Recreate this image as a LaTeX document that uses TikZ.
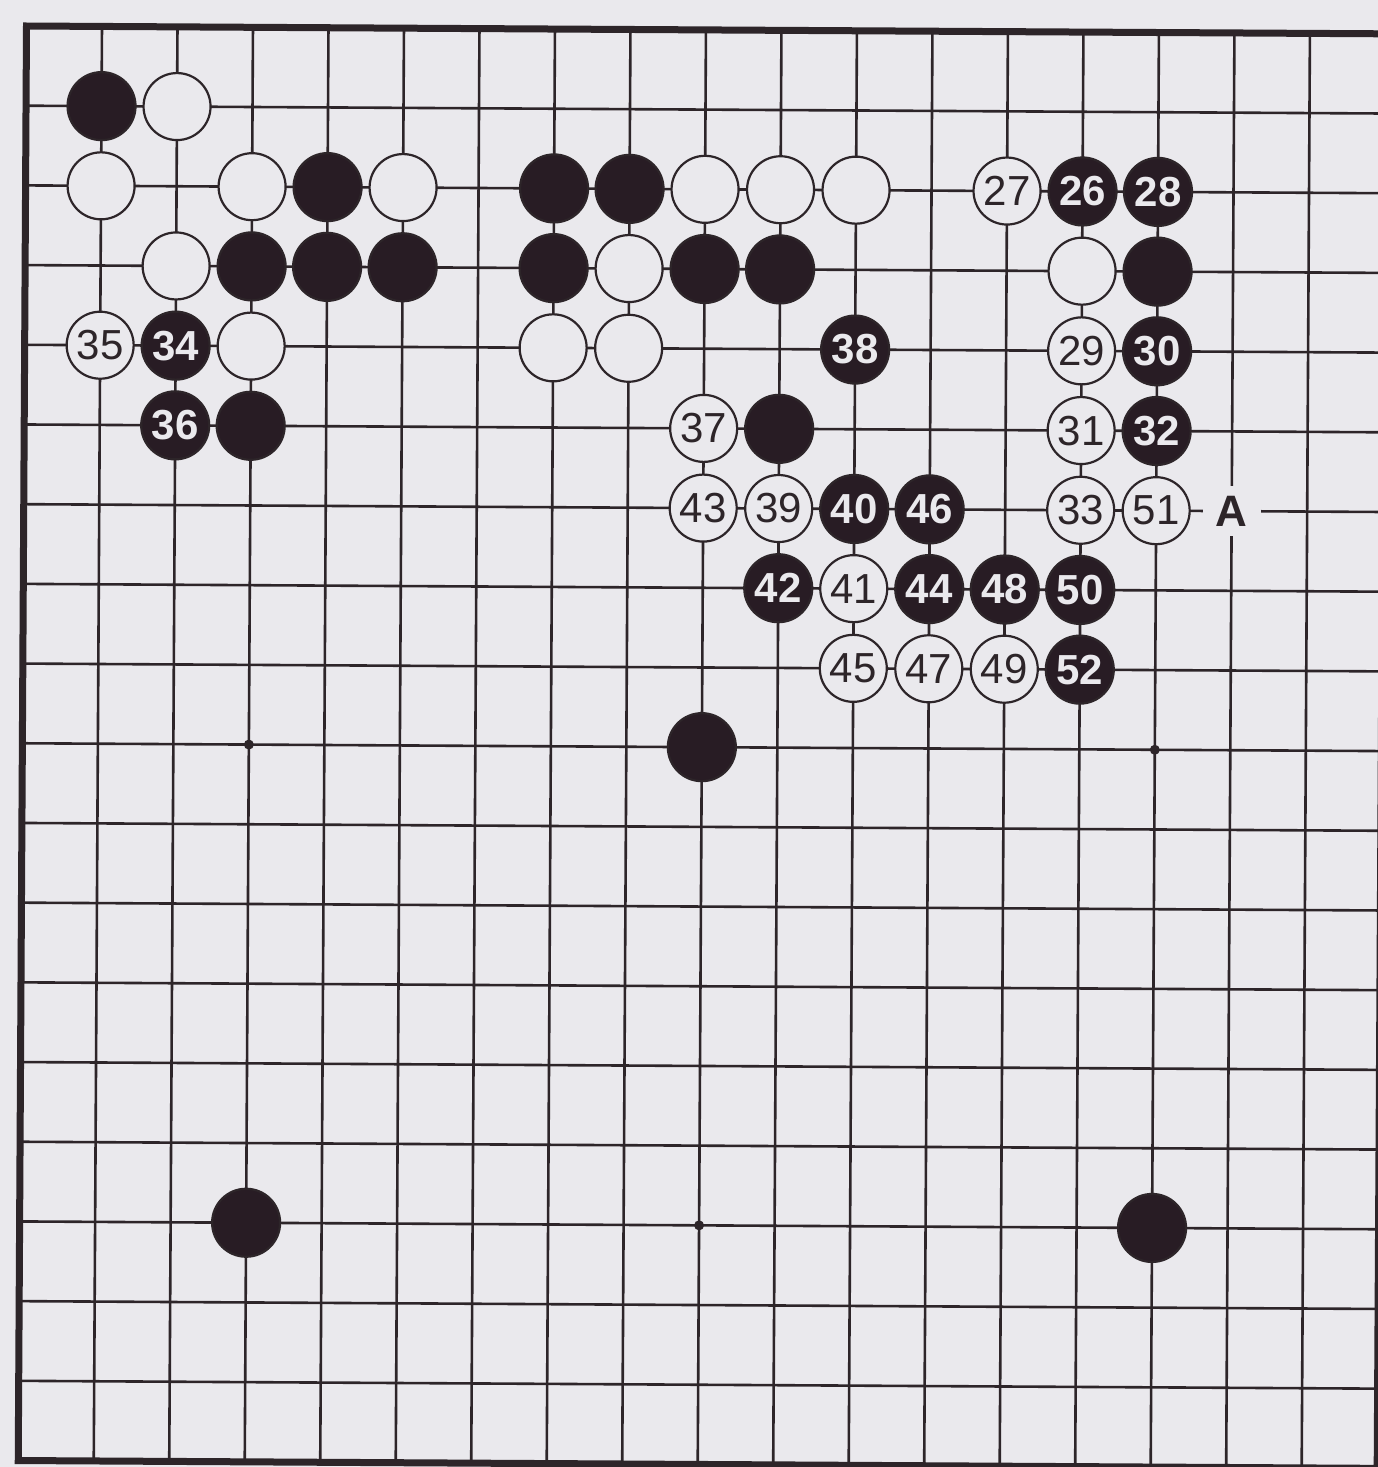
\documentclass[tikz,border=0pt]{standalone}
\usepackage{fontspec}
\setmainfont{Liberation Sans}
\definecolor{paper}{RGB}{234,233,237}
\definecolor{ink}{RGB}{45,37,41}
\definecolor{stoneblk}{RGB}{40,28,36}
\tikzset{
  gridline/.style={draw=ink, line width=2.6pt},
  edgeline/.style={draw=ink, line width=7pt, line join=miter},
  bstone/.style={circle, draw=ink, fill=stoneblk, line width=2.2pt, minimum size=68pt, inner sep=0pt, text=paper, font=\fontsize{42}{42}\selectfont\bfseries},
  wstone/.style={circle, draw=ink, fill=paper, line width=2.2pt, minimum size=67pt, inner sep=0pt, text=ink, font=\fontsize{42}{42}\selectfont},
  hoshi/.style={circle, fill=ink, minimum size=10pt, inner sep=0pt},
  marklabel/.style={fill=paper, text=ink, minimum width=58pt, minimum height=50pt, inner sep=0pt, font=\fontsize{44}{44}\selectfont\bfseries}
}
\newcommand{\putB}[3]{\node[bstone] (p#1-#2) at ({(#1-1)*75.5},{(#2-1)*79.7}) {#3};}
\newcommand{\putW}[3]{\node[wstone] (p#1-#2) at ({(#1-1)*75.5},{(#2-1)*79.7}) {#3};}
\newcommand{\putH}[2]{\node[hoshi] (h#1-#2) at ({(#1-1)*75.5},{(#2-1)*79.7}) {};}
\begin{document}
\begin{tikzpicture}[x=1pt,y=-1pt]
\fill[paper] (0,0) rectangle (1378,1467);
\useasboundingbox (0,0) rectangle (1378,1467);
\clip (0,0) rectangle (1378,1467);
\begin{scope}[shift={(26.5,26)}, rotate=-0.33]
  % grid
  \foreach \i in {2,...,18} {
    \draw[gridline] ({(\i-1)*75.5},0) -- ({(\i-1)*75.5},{18*79.7});
    \draw[gridline] (0,{(\i-1)*79.7}) -- ({18*75.5},{(\i-1)*79.7});
  }
  \draw[edgeline] (0,0) rectangle ({18*75.5},{18*79.7});
  % star points
  \putH{4}{10}
  \putH{16}{10}
  \putH{10}{16}
  % row 2
  \putB{2}{2}{}
  \putW{3}{2}{}
  % row 3
  \putW{2}{3}{}
  \putW{4}{3}{}
  \putB{5}{3}{}
  \putW{6}{3}{}
  \putB{8}{3}{}
  \putB{9}{3}{}
  \putW{10}{3}{}
  \putW{11}{3}{}
  \putW{12}{3}{}
  \putW{14}{3}{27}
  \putB{15}{3}{26}
  \putB{16}{3}{28}
  % row 4
  \putW{3}{4}{}
  \putB{4}{4}{}
  \putB{5}{4}{}
  \putB{6}{4}{}
  \putB{8}{4}{}
  \putW{9}{4}{}
  \putB{10}{4}{}
  \putB{11}{4}{}
  \putW{15}{4}{}
  \putB{16}{4}{}
  % row 5
  \putW{2}{5}{35}
  \putB{3}{5}{34}
  \putW{4}{5}{}
  \putW{8}{5}{}
  \putW{9}{5}{}
  \putB{12}{5}{38}
  \putW{15}{5}{29}
  \putB{16}{5}{30}
  % row 6
  \putB{3}{6}{36}
  \putB{4}{6}{}
  \putW{10}{6}{37}
  \putB{11}{6}{}
  \putW{15}{6}{31}
  \putB{16}{6}{32}
  % row 7
  \putW{10}{7}{43}
  \putW{11}{7}{39}
  \putB{12}{7}{40}
  \putB{13}{7}{46}
  \putW{15}{7}{33}
  \putW{16}{7}{51}
  \node[marklabel] (labelA) at ({16*75.5},{6*79.7}) {A};
  % row 8
  \putB{11}{8}{42}
  \putW{12}{8}{41}
  \putB{13}{8}{44}
  \putB{14}{8}{48}
  \putB{15}{8}{50}
  % row 9
  \putW{12}{9}{45}
  \putW{13}{9}{47}
  \putW{14}{9}{49}
  \putB{15}{9}{52}
  % others
  \putB{10}{10}{}
  \putB{4}{16}{}
  \putB{16}{16}{}
\end{scope}
\end{tikzpicture}
\end{document}
